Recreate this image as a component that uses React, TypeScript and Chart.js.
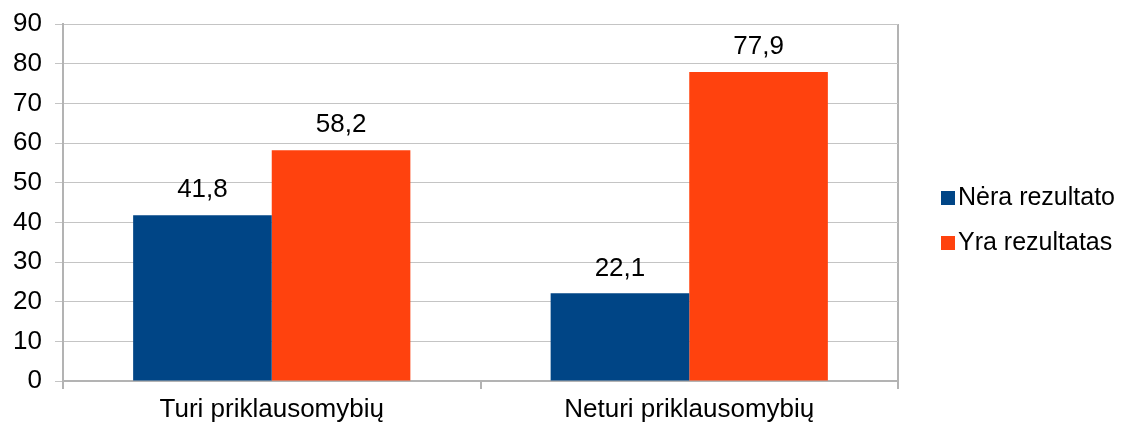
import React, { useEffect, useRef } from "react";
import { Chart, registerables } from "chart.js";

Chart.register(...registerables);

const categories = ["Turi priklausomybių", "Neturi priklausomybių"];
const seriesNames = ["Nėra rezultato", "Yra rezultatas"];
const neraValues = [41.8, 22.1];
const yraValues = [58.2, 77.9];
const seriesColors = ["#004586", "#ff420e"];
const yMin = 0;
const yMax = 90;
const yStep = 10;

const FONT = "'Liberation Sans', Arial, sans-serif";
const TEXT = "#000000";
const GRID = "#c4c4c4";
const AXIS = "#b3b3b3";
const FS = 26;

const fmt = (v: number) => v.toFixed(1).replace(".", ",");

const valueLabels = {
  id: "valueLabels",
  afterDatasetsDraw(chart: any) {
    const ctx = chart.ctx;
    ctx.save();
    ctx.font = `${FS}px ${FONT}`;
    ctx.fillStyle = TEXT;
    ctx.textAlign = "center";
    ctx.textBaseline = "middle";
    chart.data.datasets.forEach((ds: any, i: number) => {
      const meta = chart.getDatasetMeta(i);
      meta.data.forEach((el: any, j: number) => {
        ctx.fillText(fmt(ds.data[j]), el.x, el.y - 25);
      });
    });
    ctx.restore();
  },
};

const sideLegend = {
  id: "sideLegend",
  afterDraw(chart: any) {
    const ctx = chart.ctx;
    const area = chart.chartArea;
    ctx.save();
    ctx.font = `25px ${FONT}`;
    ctx.textBaseline = "middle";
    ctx.textAlign = "left";
    chart.data.datasets.forEach((ds: any, i: number) => {
      const cy = area.top + 174 + i * 45;
      const x0 = area.right + 43;
      ctx.fillStyle = ds.backgroundColor;
      ctx.fillRect(x0, cy - 7, 14, 14);
      ctx.fillStyle = TEXT;
      ctx.fillText(ds.label, x0 + 17, cy);
    });
    ctx.restore();
  },
};

export default function App() {
  const canvasRef = useRef<HTMLCanvasElement>(null);

  useEffect(() => {
    if (!canvasRef.current) return;
    const chart = new Chart(canvasRef.current, {
      type: "bar",
      data: {
        labels: categories,
        datasets: [
          {
            label: seriesNames[0],
            data: neraValues,
            backgroundColor: seriesColors[0],
            borderWidth: 0,
            categoryPercentage: 0.664,
            barPercentage: 1,
          },
          {
            label: seriesNames[1],
            data: yraValues,
            backgroundColor: seriesColors[1],
            borderWidth: 0,
            categoryPercentage: 0.664,
            barPercentage: 1,
          },
        ],
      },
      options: {
        responsive: false,
        animation: false,
        layout: { padding: { top: 24, right: 229, bottom: 0, left: 0 } },
        plugins: {
          legend: { display: false },
          tooltip: { enabled: false },
        },
        scales: {
          x: {
            grid: {
              offset: true,
              drawOnChartArea: true,
              color: (c: any) => (c.index === 1 ? "rgba(0,0,0,0)" : AXIS),
              tickColor: AXIS,
              tickLength: 8,
              lineWidth: 2,
              tickWidth: 2,
            },
            border: { display: true, color: AXIS, width: 2 },
            ticks: {
              color: TEXT,
              font: { family: FONT, size: FS },
              padding: 5,
              maxRotation: 0,
            },
            afterFit: (axis: any) => {
              axis.height = 45;
              axis.paddingLeft = 0;
              axis.paddingRight = 0;
            },
          },
          y: {
            min: yMin,
            max: yMax,
            grid: {
              color: GRID,
              tickColor: GRID,
              tickLength: 8,
              lineWidth: 1,
            },
            border: { display: true, color: AXIS, width: 2 },
            ticks: {
              stepSize: yStep,
              color: TEXT,
              font: { family: FONT, size: FS },
              padding: 13,
            },
            afterFit: (axis: any) => {
              axis.width = 63;
              axis.paddingTop = 0;
              axis.paddingBottom = 0;
            },
          },
        },
      },
      plugins: [valueLabels, sideLegend],
    });
    return () => chart.destroy();
  }, []);

  return (
    <div style={{ position: "absolute", left: 0, top: 0, width: 1127, height: 426, background: "#fff" }}>
      <canvas ref={canvasRef} width={1127} height={426} style={{ display: "block" }} />
    </div>
  );
}
